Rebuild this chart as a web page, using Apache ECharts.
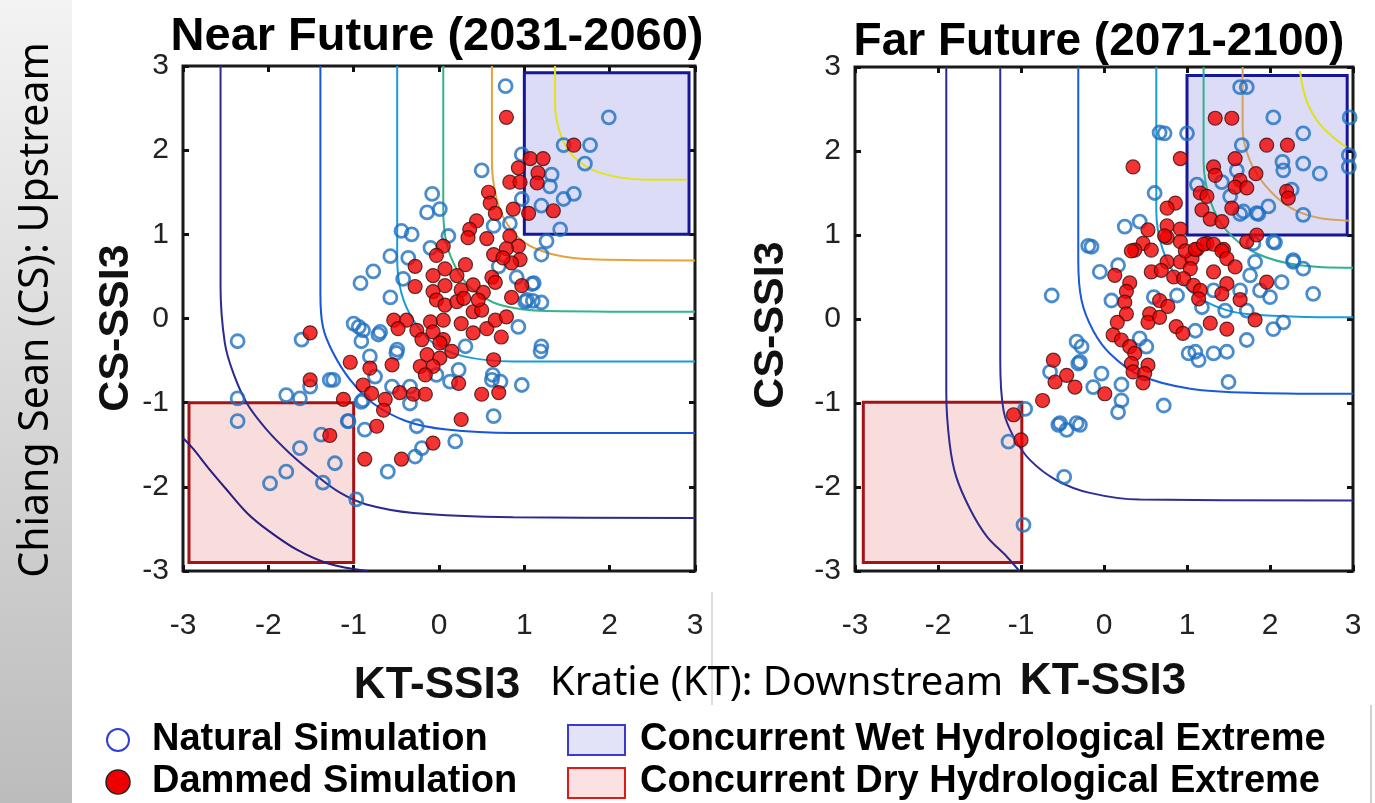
<!DOCTYPE html>
<html><head><meta charset="utf-8">
<script src="https://cdn.jsdelivr.net/npm/echarts@6/dist/echarts.min.js"></script>
<style>html,body{margin:0;padding:0;background:#fff}#c{width:1375px;height:803px}</style>
</head><body><div id="c"></div>
<script>
// ---------------- DATA ----------------
const tickValues = [-3, -2, -1, 0, 1, 2, 3];
const titles = ['Near Future (2031-2060)', 'Far Future (2071-2100)'];
const xName = 'KT-SSI3';
const yName = 'CS-SSI3';
const legendNames = ['Natural Simulation', 'Dammed Simulation', 'Concurrent Wet Hydrological Extreme', 'Concurrent Dry Hydrological Extreme'];

// Near future scatter
const nearNatural = [[0.78,2.76],[1.99,2.39],[1.46,2.06],[1.77,2.06],[1.71,1.84],[0.50,1.76],[0.97,1.95],[1.32,1.71],[1.30,1.57],[1.58,1.48],[1.46,1.42],[1.20,1.34],[0.97,1.42],[1.42,1.06],[1.26,0.92],[1.20,0.76],[-0.08,1.48],[-0.14,1.26],[0.01,1.30],[-0.44,1.04],[-0.32,1.00],[0.11,0.98],[-0.57,0.74],[-0.36,0.72],[-0.10,0.84],[-0.42,0.47],[-0.57,0.25],[0.70,0.62],[0.91,0.49],[1.09,0.41],[1.10,0.21],[0.64,1.10],[0.83,1.13],
[-0.77,0.56],[-0.92,0.42],[-0.94,-0.10],[-1.00,-0.06],[-0.89,-0.14],[-0.71,-0.19],[-0.91,-0.27],[-0.81,-0.45],[-1.24,-0.73],[-0.75,-0.69],[-0.50,-0.41],[-0.55,-0.81],[-0.91,-0.99],[-0.34,-1.01],[-0.03,-0.67],[0.23,-0.61],[0.13,-0.75],[0.31,-0.33],[0.62,-0.73],[0.72,-0.75],[0.97,-0.79],[1.19,-0.39],[0.93,-0.10],[1.01,0.20],[1.20,0.19],[1.11,0.42],[0.64,-1.16],[-0.26,-1.28],[0.19,-1.46],[-1.06,-1.22],[-0.87,-1.32],[-0.34,-0.81],
[-2.36,-0.27],[-1.61,-0.25],[-2.36,-0.95],[-2.36,-1.22],[-1.79,-0.91],[-1.63,-0.95],[-1.51,-0.81],[-1.28,-0.73],[-1.38,-1.38],[-1.07,-1.22],[-1.63,-1.54],[-1.22,-1.72],[-1.79,-1.82],[-1.98,-1.96],[-1.36,-1.95],[-0.97,-2.15],[-0.60,-1.82],[-0.89,-0.97],
[1.20,-0.33],[0.63,-0.67],[1.03,0.22],[-0.28,-1.64],[-0.20,-1.54],[-0.69,-0.16],[-0.49,-0.37]];
const nearDammed = [[0.79,2.39],[1.58,2.06],[1.07,1.90],[1.22,1.90],[0.93,1.79],[1.16,1.73],[1.15,1.61],[0.83,1.62],[0.95,1.62],[0.58,1.50],[0.60,1.37],[0.66,1.25],[0.87,1.30],[1.05,1.25],[1.34,1.28],[0.44,1.16],[0.36,1.06],[0.34,0.96],[0.56,0.95],[0.83,0.98],[0.93,0.86],[0.79,0.83],[0.64,0.76],[0.95,0.70],[0.85,0.66],[0.75,0.72],[0.05,0.86],[-0.03,0.75],[-0.28,0.62],[0.31,0.64],[0.07,0.59],[-0.07,0.51],[0.21,0.51],[0.62,0.49],[0.66,0.43],[-0.28,0.38],[0.07,0.39],[0.40,0.40],[0.52,0.31],[0.97,0.39],[0.85,0.25],
[-0.07,0.32],[0.26,0.34],[-0.03,0.22],[0.07,0.16],[0.21,0.20],[0.29,0.24],[0.40,0.08],[0.50,0.10],[0.46,0.22],
[-0.53,-0.02],[-0.38,-0.02],[-0.48,-0.12],[-0.26,-0.14],[-0.10,-0.04],[0.05,-0.02],[-0.20,-0.25],[-0.07,-0.16],[0.05,-0.25],[0.26,-0.06],[0.40,-0.17],[0.56,-0.12],[0.66,-0.02],[0.79,0.02],[0.73,-0.22],[0.01,-0.29],[0.15,-0.39],[-0.14,-0.43],[0.01,-0.47],[-0.22,-0.57],[-0.07,-0.57],[-0.16,-0.67],[-0.55,-0.55],[0.64,-0.49],[-1.04,-0.52],[-0.81,-0.59],[-0.89,-0.79],[-0.79,-0.89],[-0.63,-0.96],[-0.65,-1.09],[-0.46,-0.88],[-0.30,-0.90],[-0.16,-0.90],[0.23,-0.77],[0.50,-0.90],[0.70,-0.88],[-1.12,-0.96],[-0.73,-1.28],[0.26,-1.20],[-0.07,-1.48],
[-1.51,-0.17],[-1.51,-0.73],[-1.28,-1.39],[-0.87,-1.67],[-0.44,-1.67]];

// Far future scatter
const farNatural = [[1.64,2.76],[1.72,2.76],[2.04,2.40],[2.96,2.40],[0.73,2.21],[1.00,2.21],[2.40,2.21],[1.66,2.07],[2.15,1.87],[2.40,1.85],[2.16,1.77],[2.60,1.73],[2.95,1.95],[2.95,1.81],[1.60,1.77],[2.26,1.54],[2.40,1.24],[1.98,1.34],[1.84,1.26],[1.68,1.28],[1.42,1.63],[0.61,1.50],[1.12,1.60],[1.52,1.46],[0.25,1.10],[0.43,1.16],[-0.15,0.86],[2.04,0.92],[2.28,0.70],[1.80,0.90],
[-0.63,0.28],[-0.19,0.87],[-0.05,0.56],[0.17,0.64],[0.09,0.22],[0.60,0.26],[0.88,0.28],[1.18,0.14],[1.32,0.34],[1.64,0.34],[1.76,0.52],[1.88,0.34],[2.00,0.26],[2.14,0.44],[2.28,0.68],[2.40,0.60],[1.82,0.68],[2.06,0.91],[1.86,1.25],[1.64,1.25],[1.46,0.10],[1.72,0.10],[2.16,-0.04],[2.04,-0.12],[1.72,-0.25],[1.10,-0.14],[1.10,-0.39],[1.14,-0.49],[1.32,-0.41],[1.48,-0.39],[1.50,-0.75],[0.72,-1.03],[0.43,-0.23],[0.51,-0.33],[-0.33,-0.27],[-0.27,-0.33],[-0.31,-0.53],[-0.03,-0.65],[-0.65,-0.63],[-0.13,-0.81],[0.21,-0.78],[0.21,-0.97],[0.17,-1.11],[-0.53,-1.24],[-0.33,-1.24],
[-0.29,-0.51],[-0.55,-1.26],[-0.45,-1.32],[-0.29,-1.26],[-1.15,-1.46],[-0.95,-1.07],[-0.48,-1.88],[-0.97,-2.45],[2.52,0.30],[1.02,-0.41],[0.67,2.22]];
const farDammed = [[1.34,2.39],[1.54,2.39],[1.96,2.07],[2.21,2.07],[0.35,1.81],[0.92,1.91],[1.32,1.81],[1.58,1.91],[1.34,1.71],[1.83,1.73],[1.64,1.65],[1.58,1.57],[1.72,1.56],[2.20,1.52],[2.22,1.44],[1.16,1.50],[1.24,1.46],[0.86,1.38],[0.76,1.32],[1.18,1.30],[1.54,1.32],[1.28,1.19],[1.42,1.16],[0.76,1.11],[0.92,1.07],[0.53,1.06],[0.76,0.97],[0.92,0.92],[0.47,0.90],[0.57,0.82],[0.37,0.82],[1.24,0.90],[1.72,0.92],[1.84,1.00],[1.12,0.83],[1.44,0.83],
[0.33,0.81],[0.73,0.99],[0.76,0.68],[0.92,0.68],[1.06,0.72],[0.98,0.81],[1.10,0.83],[1.20,0.89],[1.32,0.89],[1.42,0.81],[1.48,0.72],[1.58,0.62],[1.32,0.56],[1.04,0.60],[0.84,0.50],[0.96,0.48],[0.57,0.56],[0.69,0.58],[1.08,0.40],[1.16,0.34],[1.14,0.24],[1.48,0.42],[1.42,0.30],[1.64,0.23],[1.96,0.44],[1.82,-0.01],[1.48,-0.12],[1.28,-0.05],[0.13,0.52],[0.31,0.43],[0.27,0.33],[0.25,0.20],[0.27,0.06],[0.16,-0.04],[0.11,-0.19],[0.21,-0.25],[0.31,-0.33],[0.37,-0.41],[0.33,-0.53],[0.35,-0.63],[0.53,-0.55],[0.49,-0.65],[0.47,-0.76],[0.55,0.06],[0.53,-0.04],[0.67,0.02],[0.67,0.22],[0.77,0.15],[0.87,-0.09],[0.95,-0.17],[-0.61,-0.49],[-0.45,-0.67],[-0.59,-0.75],[-0.35,-0.81],[0.01,-0.89],[-0.74,-0.97],[-1.09,-1.14],[-1.00,-1.44]];

// Concurrent extreme boxes [x1, y1, x2, y2]
const nearWetBox = [1.0, 1.0, 2.93, 2.92];
const nearDryBox = [-2.93, -1.0, -1.0, -2.9];
const farWetBox = [1.0, 1.0, 2.93, 2.9];
const farDryBox = [-2.9, -0.99, -0.99, -2.9];

// Near future contour lines
const nearC0 = [[-3.0,-1.42],[-2.88,-1.55],[-2.7,-1.78],[-2.5,-2.02],[-2.25,-2.31],[-2.0,-2.52],[-1.66,-2.75],[-1.3,-2.91],[-0.84,-3.0]];
const nearC1 = [[-2.56,3.0],[-2.56,1.2],[-2.56,0.38],[-2.51,-0.29],[-2.41,-0.65],[-2.25,-1.01],[-2.02,-1.32],[-1.75,-1.60],[-1.47,-1.84],[-1.16,-2.07],[-0.85,-2.21],[-0.30,-2.31],[0.87,-2.36],[3.0,-2.37]];
const nearC2 = [[-1.39,3.0],[-1.39,1.2],[-1.39,0.30],[-1.36,-0.10],[-1.24,-0.41],[-1.04,-0.73],[-0.77,-1.01],[-0.38,-1.22],[0.09,-1.32],[0.87,-1.36],[3.0,-1.36]];
const nearC3 = [[-0.49,3.0],[-0.49,1.5],[-0.49,0.70],[-0.44,0.30],[-0.30,-0.02],[-0.07,-0.29],[0.29,-0.45],[0.87,-0.51],[3.0,-0.51]];
const nearC4 = [[0.05,3.0],[0.05,2.0],[0.05,1.29],[0.09,0.89],[0.21,0.58],[0.40,0.34],[0.72,0.16],[1.26,0.09],[3.0,0.08]];
const nearC5 = [[0.62,3.0],[0.62,2.4],[0.62,1.88],[0.66,1.49],[0.77,1.17],[0.99,0.91],[1.34,0.76],[1.85,0.70],[3.0,0.69]];
const nearC6 = [[1.36,3.0],[1.36,2.56],[1.42,2.20],[1.58,1.92],[1.89,1.73],[2.44,1.65],[2.9,1.65]];

// Far future contour lines
const farC1 = [[-1.90,3.0],[-1.90,1.0],[-1.90,-0.89],[-1.86,-1.48],[-1.78,-1.88],[-1.61,-2.27],[-1.41,-2.59],[-1.17,-2.83],[-1.02,-3.0]];
const farC2 = [[-1.25,3.0],[-1.25,1.0],[-1.25,-0.49],[-1.21,-1.09],[-1.09,-1.40],[-0.89,-1.68],[-0.57,-1.92],[-0.17,-2.07],[0.43,-2.15],[3.0,-2.16]];
const farC3 = [[-0.31,3.0],[-0.31,1.6],[-0.31,0.70],[-0.27,0.22],[-0.13,-0.14],[0.07,-0.41],[0.43,-0.67],[1.04,-0.83],[1.84,-0.88],[3.0,-0.89]];
const farC4 = [[0.63,3.0],[0.63,2.0],[0.63,1.29],[0.70,0.85],[0.88,0.50],[1.20,0.22],[1.72,0.06],[3.0,0.02]];
const farC5 = [[1.20,3.0],[1.20,2.5],[1.20,1.88],[1.28,1.41],[1.48,1.05],[1.84,0.78],[2.36,0.64],[3.0,0.61]];
const farC6 = [[1.67,3.0],[1.67,2.28],[1.76,1.88],[1.96,1.57],[2.24,1.33],[2.56,1.21],[2.96,1.17]];
const farC7 = [[2.36,2.95],[2.44,2.60],[2.60,2.32],[2.84,2.10],[2.92,2.05]];

// ---------------- STYLES ----------------
const nearContourColors = ['#2a1d80', '#2b2a8e', '#1656d8', '#1a9bd8', '#35b487', '#e5a33c', '#e2e21e'];
const farContourColors = ['#2b2a8e', '#2e2c96', '#1a5ad8', '#1a9ed6', '#2fb190', '#d3a25c', '#e0e020'];
const FONT = '"Liberation Sans", Arial, sans-serif';
const GOTHIC = '"Noto Sans", "DejaVu Sans", sans-serif';

const chart = echarts.init(document.getElementById('c'), null, {renderer: 'canvas'});

const grids = [
  {left: 183, top: 66, width: 512, height: 505},
  {left: 855, top: 67, width: 498, height: 504}
];

function baseAxis(gi, pos, labels) {
  return {
    type: 'value', gridIndex: gi, position: pos, min: -3, max: 3, interval: 1,
    axisLine: {show: false, onZero: false},
    axisTick: {show: true, inside: true, length: 6, lineStyle: {color: '#111', width: 3}},
    splitLine: {show: false},
    axisLabel: labels ? {
      show: true, color: '#222', fontSize: 30, fontFamily: FONT,
      margin: (pos === 'bottom') ? 40 : 14,
      formatter: v => tickValues.includes(v) ? String(v) : ''
    } : {show: false}
  };
}

const xAxes = [], yAxes = [];
[0, 1].forEach(gi => {
  xAxes.push(baseAxis(gi, 'bottom', true));
  xAxes.push(baseAxis(gi, 'top', false));
  yAxes.push(baseAxis(gi, 'left', true));
  yAxes.push(baseAxis(gi, 'right', false));
});

function boxSeries(axisIdx, box, fill, border) {
  return {
    type: 'scatter', xAxisIndex: axisIdx, yAxisIndex: axisIdx, data: [], silent: true, z: 1,
    markArea: {
      silent: true,
      data: [[
        {coord: [box[0], box[1]], itemStyle: {color: fill, borderColor: border, borderWidth: 3}},
        {coord: [box[2], box[3]]}
      ]]
    }
  };
}

function contourSeries(axisIdx, pts, color) {
  return {
    type: 'line', xAxisIndex: axisIdx, yAxisIndex: axisIdx, data: pts, showSymbol: false,
    symbol: 'none', smooth: 0.35, silent: true, z: 2,
    lineStyle: {color: color, width: 2}
  };
}

function natSeries(axisIdx, data) {
  return {
    type: 'scatter', xAxisIndex: axisIdx, yAxisIndex: axisIdx, data: data, symbol: 'circle',
    symbolSize: 13, z: 3,
    itemStyle: {color: 'rgba(255,255,255,0)', borderColor: '#1e6fc0', borderWidth: 2.8}
  };
}
function damSeries(axisIdx, data) {
  return {
    type: 'scatter', xAxisIndex: axisIdx, yAxisIndex: axisIdx, data: data, symbol: 'circle',
    symbolSize: 14, z: 4,
    itemStyle: {color: '#f20000', borderColor: '#3a0d0d', borderWidth: 1.2}
  };
}

const nearContours = [nearC0, nearC1, nearC2, nearC3, nearC4, nearC5, nearC6];
const farContours = [farC1, farC2, farC3, farC4, farC5, farC6, farC7];

const series = [
  boxSeries(0, nearWetBox, '#dcdcf6', '#16169a'),
  boxSeries(0, nearDryBox, '#f9dcdc', '#a51414'),
  boxSeries(2, farWetBox, '#dcdcf6', '#16169a'),
  boxSeries(2, farDryBox, '#f9dcdc', '#a51414'),
  ...nearContours.map((c, i) => contourSeries(0, c, nearContourColors[i])),
  ...farContours.map((c, i) => contourSeries(2, c, farContourColors[i])),
  natSeries(0, nearNatural), damSeries(0, nearDammed),
  natSeries(2, farNatural), damSeries(2, farDammed)
];

const G = echarts.graphic;
const graphics = [
  {type: 'rect', z: -10, shape: {x: 0, y: 0, width: 72, height: 803},
   style: {fill: new G.LinearGradient(0, 0, 0, 1, [{offset: 0, color: '#f3f3f3'}, {offset: 1, color: '#bcbcbc'}])}},
  {type: 'line', z: -5, shape: {x1: 712, y1: 592, x2: 712, y2: 705}, style: {stroke: '#dddddd', lineWidth: 2}},
  {type: 'line', z: -5, shape: {x1: 1371, y1: 705, x2: 1371, y2: 803}, style: {stroke: '#d0d0d0', lineWidth: 2}},
  // titles
  {type: 'text', x: 437, y: 37, style: {text: titles[0], font: 'bold 47px ' + FONT, fill: '#000', align: 'center', verticalAlign: 'middle'}},
  {type: 'text', x: 1099, y: 42, style: {text: titles[1], font: 'bold 46px ' + FONT, fill: '#000', align: 'center', verticalAlign: 'middle'}},
  // axis names
  {type: 'text', x: 116, y: 328, rotation: Math.PI / 2, style: {text: yName, font: 'bold 43px ' + FONT, fill: '#111', align: 'center', verticalAlign: 'middle'}},
  {type: 'text', x: 771, y: 325, rotation: Math.PI / 2, style: {text: yName, font: 'bold 43px ' + FONT, fill: '#111', align: 'center', verticalAlign: 'middle'}},
  {type: 'text', x: 437, y: 686, style: {text: xName, font: 'bold 44px ' + FONT, fill: '#111', align: 'center', verticalAlign: 'middle'}},
  {type: 'text', x: 1103, y: 682, style: {text: xName, font: 'bold 44px ' + FONT, fill: '#111', align: 'center', verticalAlign: 'middle'}},
  // slide annotations
  {type: 'text', x: 550, y: 684, style: {text: 'Kratie (KT): Downstream', font: '40px ' + GOTHIC, fill: '#000', align: 'left', verticalAlign: 'middle'}},
  {type: 'text', x: 36, y: 310, rotation: Math.PI / 2, style: {text: 'Chiang Sean (CS): Upstream', font: '41px ' + GOTHIC, fill: '#000', align: 'center', verticalAlign: 'middle'}},
  // legend
  {type: 'circle', shape: {cx: 118, cy: 740, r: 11}, style: {fill: '#fff', stroke: '#2e3fd8', lineWidth: 2}},
  {type: 'text', x: 152, y: 740, style: {text: legendNames[0], font: 'bold 38px ' + FONT, fill: '#000', verticalAlign: 'middle'}},
  {type: 'circle', shape: {cx: 118, cy: 782, r: 12}, style: {fill: '#ee0000', stroke: '#222', lineWidth: 1.5}},
  {type: 'text', x: 152, y: 782, style: {text: legendNames[1], font: 'bold 38px ' + FONT, fill: '#000', verticalAlign: 'middle'}},
  {type: 'rect', shape: {x: 568, y: 725, width: 57, height: 30}, style: {fill: '#e2e2f8', stroke: '#3a3ad0', lineWidth: 2}},
  {type: 'text', x: 640, y: 740, style: {text: legendNames[2], font: 'bold 38px ' + FONT, fill: '#000', verticalAlign: 'middle'}},
  {type: 'rect', shape: {x: 568, y: 768, width: 57, height: 30}, style: {fill: '#fbe1e1', stroke: '#e01818', lineWidth: 2}},
  {type: 'text', x: 640, y: 782, style: {text: legendNames[3], font: 'bold 38px ' + FONT, fill: '#000', verticalAlign: 'middle'}}
];

chart.setOption({
  animation: false,
  backgroundColor: '#ffffff',
  grid: grids.map(g => Object.assign({show: true, borderColor: '#1a1a1a', borderWidth: 3, backgroundColor: '#fff', containLabel: false}, g)),
  xAxis: xAxes,
  yAxis: yAxes,
  series: series,
  graphic: graphics
});
</script>
</body></html>
